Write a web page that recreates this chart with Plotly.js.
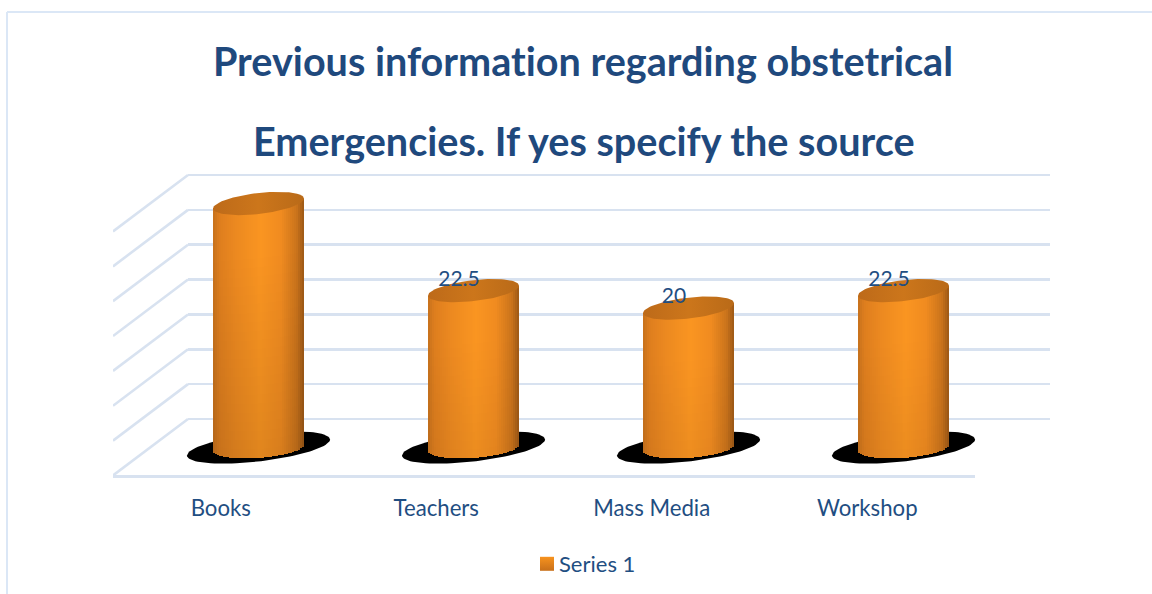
<!DOCTYPE html>
<html>
<head>
<meta charset="utf-8">
<script src="https://cdn.plot.ly/plotly-3.0.1.min.js"></script>
<style>
html,body{margin:0;padding:0;background:#fff}
#chart{width:1152px;height:594px}
#chart text{font-variant-ligatures:none;font-feature-settings:"liga" 0}
</style>
</head>
<body>
<div id="chart"></div>
<script>
// Chart content
const titleLines = ['Previous information regarding obstetrical', 'Emergencies. If yes specify the source'];
const categories = ['Books', 'Teachers', 'Mass Media', 'Workshop'];
const seriesValues = [35, 22.5, 20, 22.5];
const valueLabels = ['', '22.5', '20', '22.5'];
const gridValues = [0, 5, 10, 15, 20, 25, 30, 35];
const seriesName = 'Series 1';

// Page geometry of the 3D-styled frame, in pixels
const W = 1152, H = 594;
const pxPerUnit = 244 / 35;
const wallZeroY = 419, baseZeroY = 447.5, floorFrontY = 476;
const floorLeft = 113, floorRight = 975, wallLeft = 188, wallRight = 1050;
const barPlaneLeft = 151, barPlaneRight = 1011;
const slotPx = (barPlaneRight - barPlaneLeft) / categories.length;
const floorSlotPx = (floorRight - floorLeft) / categories.length;

const rangeFor = zeroY => [(zeroY - H) / pxPerUnit, zeroY / pxPerUnit];
const GRID = '#d8e2f0', NAVY = '#1f4e82', TITLE = '#1f497d';

// Tilted ellipse outline around (cx, cy) in axis units; sizes given in pixels
function ellipse(cx, cy, a, b, k) {
  const xs = [], ys = [];
  for (let d = 0; d <= 360; d += 4) {
    const t = d * Math.PI / 180;
    xs.push(cx + a * Math.cos(t) / slotPx);
    ys.push(cy + (b * Math.sin(t) + k * Math.cos(t)) / pxPerUnit);
  }
  return {x: xs, y: ys};
}

// Side-lit shading across the cylinder, u from -1 (left) to 1 (right)
const shadeStops = [
  [-1.00, 198, 113, 28], [-0.86, 222, 126, 30], [-0.50, 236, 137, 32], [0.05, 250, 149, 33],
  [0.50, 240, 139, 32], [0.84, 202, 115, 27], [1.00, 156, 88, 22]
];
function shade(u, fade) {
  let i = 0;
  while (i < shadeStops.length - 2 && u > shadeStops[i + 1][0]) i++;
  const p = shadeStops[i], q = shadeStops[i + 1];
  const f = Math.min(1, Math.max(0, (u - p[0]) / (q[0] - p[0])));
  const c = [1, 2, 3].map(j => Math.round((p[j] + (q[j] - p[j]) * f) * fade));
  return `rgb(${c[0]},${c[1]},${c[2]})`;
}

// Cylinder body as a stack of thin shaded bars
const CYL_A = 45.5, CYL_B = 10.5, TOP_K = 5, BASE_K = 3;
function cylinderBody(index, value) {
  const cols = 46, rowPx = 9;
  const colW = (2 * CYL_A / cols) / slotPx;
  const x = [], base = [], y = [], color = [];
  for (let c = 0; c < cols; c++) {
    const u = -1 + (2 * c + 1) / cols;
    const lo = (-CYL_B * Math.sqrt(1 - u * u) + BASE_K * u) / pxPerUnit;
    const hi = value + TOP_K * u / pxPerUnit;
    const rows = Math.max(1, Math.round((hi - lo) * pxPerUnit / rowPx));
    for (let r = 0; r < rows; r++) {
      const s = lo + (hi - lo) * r / rows;
      const px = (value - (s + (hi - lo) / rows / 2)) * pxPerUnit;
      x.push(index + u * CYL_A / slotPx);
      base.push(s);
      y.push((hi - lo) / rows);
      color.push(shade(u, 1 - Math.max(0, px - 50) / 200 * 0.1));
    }
  }
  return {
    type: 'bar', xaxis: 'x4', yaxis: 'y2', x, y, base, width: colW * 1.02,
    marker: {color, line: {width: 0}}, showlegend: false, hoverinfo: 'skip'
  };
}

const traces = [];

// Legend entry, also anchors the back wall subplot
traces.push({
  type: 'scatter', mode: 'markers', xaxis: 'x', yaxis: 'y', x: [null], y: [null], name: seriesName,
  marker: {symbol: 'square', size: 14, color: '#f7931e', gradient: {type: 'vertical', color: '#c8701a'}},
  showlegend: true, hoverinfo: 'skip'
});

// Side wall lines running from the back wall down to the front edge
const depthX = (wallLeft - floorLeft) / floorSlotPx;
const depthY = (floorFrontY - wallZeroY - 0.5) / pxPerUnit;
gridValues.forEach(v => {
  traces.push({
    type: 'scatter', mode: 'lines', xaxis: 'x2', yaxis: 'y3',
    x: [-0.5 + depthX, -0.5], y: [v, v - depthY],
    line: {color: GRID, width: 2.6}, showlegend: false, hoverinfo: 'skip', cliponaxis: false
  });
});

// Floor shadows under each cylinder
categories.forEach((c, i) => {
  const e = ellipse(i, 0, 71.5, 14, 8);
  traces.push({
    type: 'scatter', mode: 'lines', xaxis: 'x3', yaxis: 'y2', x: e.x, y: e.y,
    fill: 'toself', fillcolor: '#000', line: {width: 0, color: '#000'}, showlegend: false, hoverinfo: 'skip'
  });
});

// Cylinder bodies
seriesValues.forEach((v, i) => traces.push(cylinderBody(i, v)));

// Cylinder lids
seriesValues.forEach((v, i) => {
  const e = ellipse(i, v, CYL_A, CYL_B, TOP_K);
  traces.push({
    type: 'scatter', mode: 'lines', xaxis: 'x4', yaxis: 'y2', x: e.x, y: e.y,
    fill: 'toself', fillcolor: '#c8721a',
    fillgradient: {type: 'horizontal', colorscale: [[0, '#bd6a19'], [0.5, '#cc761b'], [1, '#b96a18']]},
    line: {width: 0, color: '#c8721a'}, showlegend: false, hoverinfo: 'skip'
  });
});

// Value labels sit just above the lid centre, slightly left of the cylinder axis
traces.push({
  type: 'scatter', mode: 'text', xaxis: 'x4', yaxis: 'y2',
  x: categories.map((c, i) => i - 14.5 / slotPx),
  y: seriesValues.map(v => v + 1.45),
  text: valueLabels, textposition: 'middle center', cliponaxis: false,
  textfont: {family: 'Lato, sans-serif', size: 21, color: NAVY},
  showlegend: false, hoverinfo: 'skip'
});

const hidden = {showticklabels: false, showgrid: false, zeroline: false, showline: false, ticks: ''};
const layout = {
  width: W, height: H,
  margin: {l: 0, r: 0, t: 0, b: 0},
  paper_bgcolor: '#fff', plot_bgcolor: 'rgba(0,0,0,0)',
  barmode: 'overlay', bargap: 0,
  font: {family: 'Lato, sans-serif', color: NAVY},
  title: {
    text: '<b>' + titleLines[0] + '</b>', x: 583 / W, xanchor: 'center',
    y: 1 - 62 / H, yanchor: 'middle',
    font: {family: 'Lato, sans-serif', size: 39.6, color: TITLE}
  },
  annotations: [{
    text: '<b>' + titleLines[1] + '</b>', xref: 'paper', yref: 'paper', x: 583.5 / W, y: 1 - 140 / H,
    xanchor: 'center', yanchor: 'middle', showarrow: false,
    font: {family: 'Lato, sans-serif', size: 39.6, color: TITLE}
  }],
  showlegend: true,
  legend: {
    orientation: 'h', x: 588 / W, xanchor: 'center', y: 1 - 564 / H, yanchor: 'middle',
    font: {family: 'Lato, sans-serif', size: 22, color: NAVY}, bgcolor: 'rgba(0,0,0,0)'
  },
  // Back wall: gridlines come from this axis pair
  xaxis: Object.assign({domain: [wallLeft / W, wallRight / W], range: [0, 1], anchor: 'y'}, hidden),
  yaxis: {
    domain: [0, 1], range: rangeFor(wallZeroY), anchor: 'x', tickmode: 'array', tickvals: gridValues,
    showticklabels: false, ticks: '', showgrid: true, gridcolor: GRID, gridwidth: 2.6, zeroline: false, showline: false
  },
  // Front edge of the floor carries the category labels
  xaxis2: {
    domain: [floorLeft / W, floorRight / W], range: [-0.5, 3.5], anchor: 'free', position: (H - floorFrontY) / H,
    tickmode: 'array', tickvals: categories.map((c, i) => i), ticktext: categories,
    ticks: '', ticklabelstandoff: 12, showgrid: false, zeroline: false,
    showline: true, linecolor: GRID, linewidth: 2.6,
    tickfont: {family: 'Lato, sans-serif', size: 22.2, color: NAVY}
  },
  yaxis3: Object.assign({domain: [0, 1], range: rangeFor(wallZeroY), anchor: 'x2'}, hidden),
  // Mid-depth plane where the cylinders stand
  xaxis3: Object.assign({domain: [barPlaneLeft / W, barPlaneRight / W], range: [-0.5, 3.5], anchor: 'y2'}, hidden),
  xaxis4: Object.assign({domain: [barPlaneLeft / W, barPlaneRight / W], range: [-0.5, 3.5], anchor: 'y2'}, hidden),
  yaxis2: Object.assign({domain: [0, 1], range: rangeFor(baseZeroY), anchor: 'x3'}, hidden),
  // Outer frame of the chart area
  shapes: [
    {type: 'line', xref: 'paper', yref: 'paper', x0: 7 / W, x1: 1, y0: 1 - 12 / H, y1: 1 - 12 / H, line: {color: '#dbe7f6', width: 2}},
    {type: 'line', xref: 'paper', yref: 'paper', x0: 7 / W, x1: 7 / W, y0: 0, y1: 1 - 12 / H, line: {color: '#dbe7f6', width: 2}}
  ]
};

Plotly.newPlot('chart', traces, layout, {staticPlot: true, displayModeBar: false}).then(gd => {
  // Tighten the gap between the legend swatch and its label
  gd.querySelectorAll('.legendtext').forEach(t => {
    t.setAttribute('x', parseFloat(t.getAttribute('x')) - 8);
  });
});
</script>
</body>
</html>
